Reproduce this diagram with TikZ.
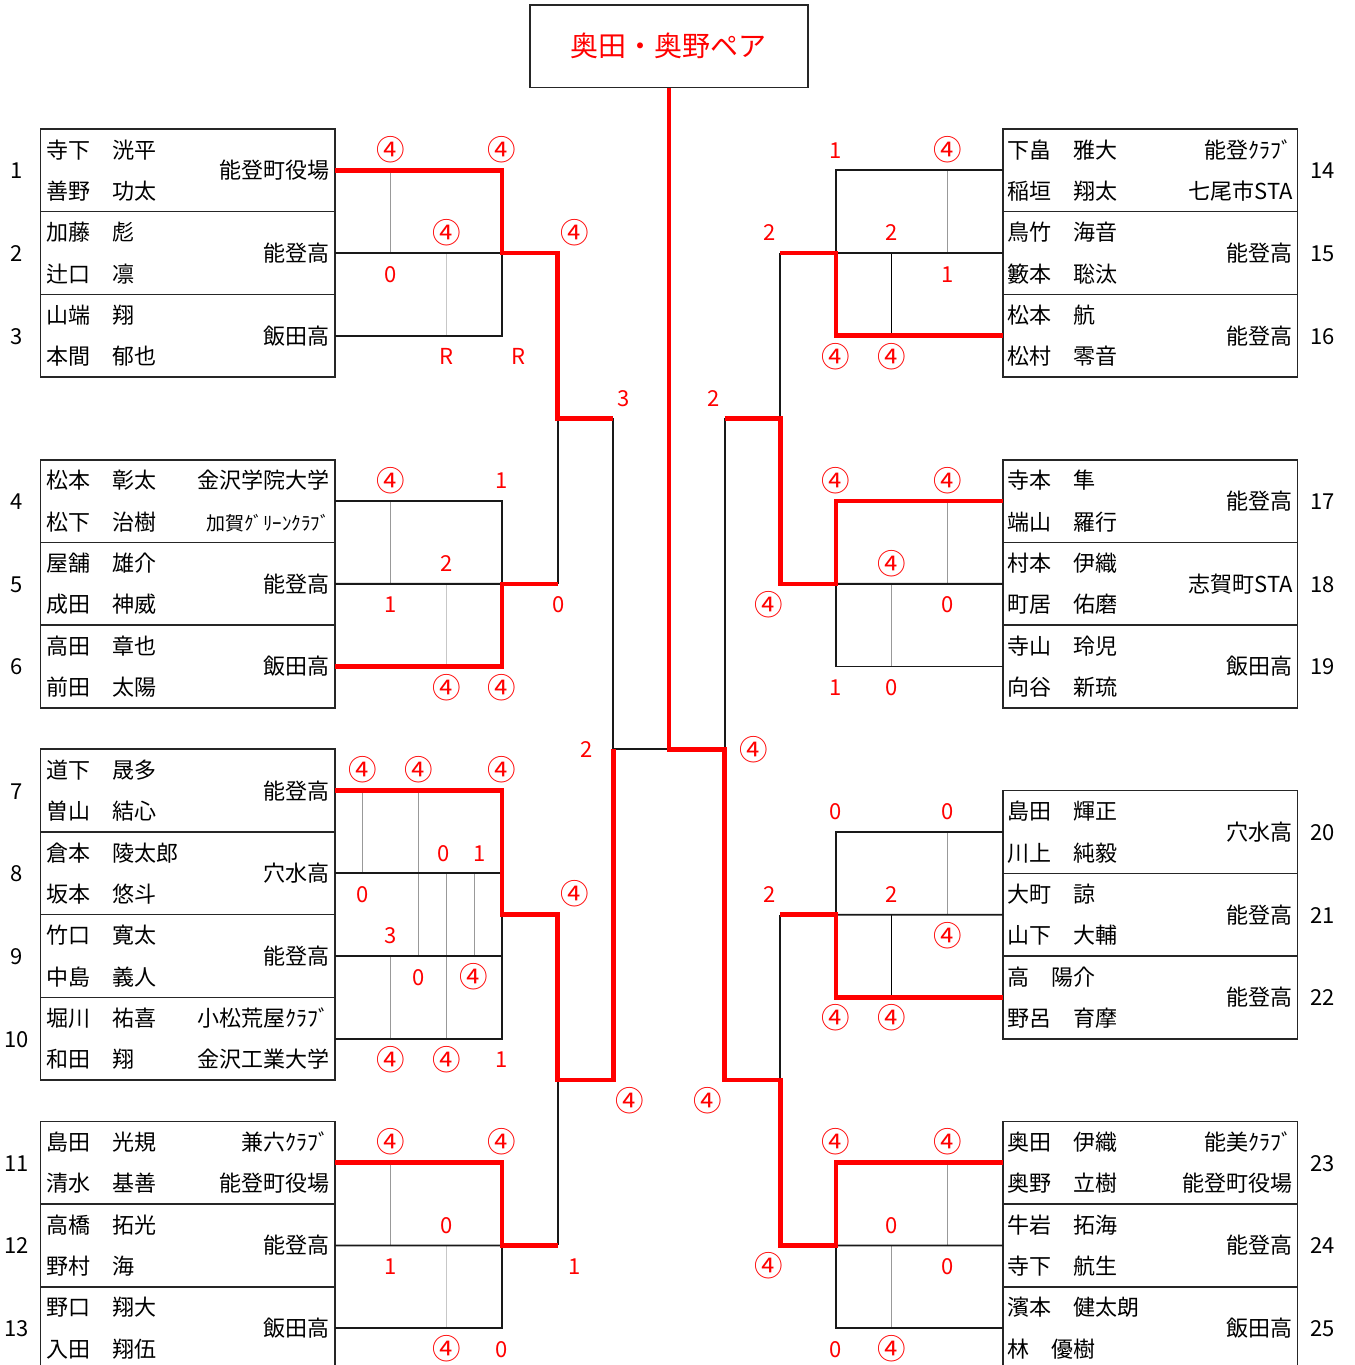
\documentclass[tikz,border=0pt]{standalone}
\usepackage{fontspec}
\setmainfont{Noto Sans CJK JP}
\newcounter{labno}
\newcommand\mklab[3]{\stepcounter{labno}\node[lab] (lab\arabic{labno}) at (#1,#2) {#3};}
\newcommand\mkcir[2]{\stepcounter{labno}\node[cir] (lab\arabic{labno}) at (#1,#2) {④};}
% left team: id, top row, number, name1, name2, school line1, school line2, school centred
\newcommand\Lteam[8]{%
  \node[tbox, anchor=north east] (#1) at (0,#2) {};
  \node[txt, anchor=west] (#1a) at (-10.38,{#2+0.5}) {#4};
  \node[txt, anchor=west] (#1b) at (-10.38,{#2+1.5}) {#5};
  \node[txt, anchor=east] (#1c) at (-0.18,{#2+0.5}) {#6};
  \node[txt, anchor=east] (#1d) at (-0.18,{#2+1.5}) {#7};
  \node[txt, anchor=east] (#1e) at (-0.18,{#2+1}) {#8};
  \node[txt] (#1n) at (-11.43,{#2+1}) {#3};
}
\newcommand\Rteam[8]{%
  \node[tbox, anchor=north west] (#1) at (24,#2) {};
  \node[txt, anchor=west] (#1a) at (24.18,{#2+0.5}) {#4};
  \node[txt, anchor=west] (#1b) at (24.18,{#2+1.5}) {#5};
  \node[txt, anchor=east] (#1c) at (34.42,{#2+0.5}) {#6};
  \node[txt, anchor=east] (#1d) at (34.42,{#2+1.5}) {#7};
  \node[txt, anchor=east] (#1e) at (34.42,{#2+1}) {#8};
  \node[txt] (#1n) at (35.5,{#2+1}) {#3};
}
\tikzset{
  tbox/.style={draw=black!85, line width=1.6pt, minimum width=294.5pt, minimum height=82.7pt, inner sep=0pt, outer sep=0pt},
  txt/.style={inner sep=0pt, outer sep=0pt, font=\fontsize{22pt}{22pt}\selectfont, text height=19.4pt, text depth=2.6pt},
  lab/.style={txt, text=red},
  cir/.style={inner sep=0pt, outer sep=0pt, text=red, font=\fontsize{28.5pt}{28.5pt}\selectfont, text height=25.1pt, text depth=3.4pt},
  ttl/.style={draw=black!85, line width=1.6pt, minimum width=278pt, minimum height=82.7pt, inner sep=0pt, outer sep=0pt, text=red, font=\fontsize{28pt}{28pt}\selectfont, text height=24.6pt, text depth=3.4pt},
  bk/.style={draw=black!90, line width=1.8pt},
  rd/.style={draw=red, line width=4.6pt},
  gy/.style={draw=black!40, line width=1pt},
  gl/.style={draw=black!22, line width=1pt},
  tk/.style={draw=black, line width=1pt},
}
\begin{document}
\begin{tikzpicture}[x=27.83pt, y=-41.35pt]
\useasboundingbox (-12.0374,-3.1197) rectangle (36.615,29.891);

\node[ttl] (title) at (12,-2) {奥田・奥野ペア};

\Lteam{t1}{0}{1}{寺下　洸平}{善野　功太}{}{}{能登町役場}
\Lteam{t2}{2}{2}{加藤　彪}{辻口　凛}{}{}{能登高}
\Lteam{t3}{4}{3}{山端　翔}{本間　郁也}{}{}{飯田高}
\Lteam{t4}{8}{4}{松本　彰太}{松下　治樹}{金沢学院大学}{{\fontsize{19pt}{19pt}\selectfont 加賀ｸﾞﾘｰﾝｸﾗﾌﾞ}}{}
\Lteam{t5}{10}{5}{屋舗　雄介}{成田　神威}{}{}{能登高}
\Lteam{t6}{12}{6}{高田　章也}{前田　太陽}{}{}{飯田高}
\Lteam{t7}{15}{7}{道下　晟多}{曽山　結心}{}{}{能登高}
\Lteam{t8}{17}{8}{倉本　陵太郎}{坂本　悠斗}{}{}{穴水高}
\Lteam{t9}{19}{9}{竹口　寛太}{中島　義人}{}{}{能登高}
\Lteam{t10}{21}{10}{堀川　祐喜}{和田　翔}{小松荒屋ｸﾗﾌﾞ}{金沢工業大学}{}
\Lteam{t11}{24}{11}{島田　光規}{清水　基善}{兼六ｸﾗﾌﾞ}{能登町役場}{}
\Lteam{t12}{26}{12}{高橋　拓光}{野村　海}{}{}{能登高}
\Lteam{t13}{28}{13}{野口　翔大}{入田　翔伍}{}{}{飯田高}

\Rteam{t14}{0}{14}{下畠　雅大}{稲垣　翔太}{能登ｸﾗﾌﾞ}{七尾市STA}{}
\Rteam{t15}{2}{15}{鳥竹　海音}{籔本　聡汰}{}{}{能登高}
\Rteam{t16}{4}{16}{松本　航}{松村　零音}{}{}{能登高}
\Rteam{t17}{8}{17}{寺本　隼}{端山　羅行}{}{}{能登高}
\Rteam{t18}{10}{18}{村本　伊織}{町居　佑磨}{}{}{志賀町STA}
\Rteam{t19}{12}{19}{寺山　玲児}{向谷　新琉}{}{}{飯田高}
\Rteam{t20}{16}{20}{島田　輝正}{川上　純毅}{}{}{穴水高}
\Rteam{t21}{18}{21}{大町　諒}{山下　大輔}{}{}{能登高}
\Rteam{t22}{20}{22}{高　陽介}{野呂　育摩}{}{}{能登高}
\Rteam{t23}{24}{23}{奥田　伊織}{奥野　立樹}{能美ｸﾗﾌﾞ}{能登町役場}{}
\Rteam{t24}{26}{24}{牛岩　拓海}{寺下　航生}{}{}{能登高}
\Rteam{t25}{28}{25}{濱本　健太朗}{林　優樹}{}{}{飯田高}

% junctions
\coordinate (g1) at (6,3);  \coordinate (g2) at (6,11);
\coordinate (g3) at (6,19); \coordinate (g4) at (6,27);
\coordinate (h1) at (8,3);  \coordinate (h2) at (8,11);
\coordinate (h3) at (8,19); \coordinate (h4) at (8,27);
\coordinate (s1) at (8,7);  \coordinate (s2) at (8,23);
\coordinate (s1o) at (10,7); \coordinate (s2o) at (10,23);
\coordinate (f1) at (10,15); \coordinate (fc) at (12,15);
\coordinate (G1) at (18,3);  \coordinate (G2) at (18,11);
\coordinate (G3) at (18,19); \coordinate (G4) at (18,27);
\coordinate (H1) at (16,3);  \coordinate (H2) at (16,11);
\coordinate (H3) at (16,19); \coordinate (H4) at (16,27);
\coordinate (S1) at (16,7);  \coordinate (S2) at (16,23);
\coordinate (S1o) at (14,7); \coordinate (S2o) at (14,23);
\coordinate (F2) at (14,15);

% match marks
\draw[gy] (2,1)--(2,3);   \draw[gl] (4,3)--(4,5);
\draw[gy] (2,9)--(2,11);  \draw[gl] (4,11)--(4,13);
\draw[gy] (1,16)--(1,18); \draw[gy] (3,16)--(3,20);
\draw[gy] (4,18)--(4,22); \draw[gy] (5,18)--(5,20);
\draw[gy] (2,20)--(2,22);
\draw[gy] (2,25)--(2,27); \draw[gl] (4,27)--(4,29);
\draw[gy] (22,1)--(22,3);   \draw[tk] (20,3)--(20,5);
\draw[gy] (22,9)--(22,11);  \draw[gy] (20,11)--(20,13);
\draw[gy] (22,17)--(22,19); \draw[tk] (20,19)--(20,21);
\draw[gy] (22,25)--(22,27); \draw[gy] (20,27)--(20,29);

% black connectors
\draw[bk] (t2.east) -- (g1);
\draw[bk] (t3.east) -| (g1);
\draw[bk] (t4.east) -| (g2);
\draw[bk] (t5.east) -- (g2);
\draw[bk] (h2) -- (s1);
\draw[bk] (s1o) -- (f1) -- (fc);
\draw[bk] (t8.east) -- (t8.east -| g3);
\draw[bk] (t9.east) -- (t9.east -| g3);
\draw[bk] (t10.east) -| (g3);
\draw[bk] (t12.east) -- (g4);
\draw[bk] (t13.east) -| (g4);
\draw[bk] (h4) -- (s2);
\draw[bk] (t14.west) -| (G1);
\draw[bk] (t15.west) -- (G1);
\draw[bk] (H1) -- (S1);
\draw[bk] (t18.west) -- (G2);
\draw[bk] (t19.west) -| (G2);
\draw[bk] (S1o) -- (F2);
\draw[bk] (t20.west) -| (G3);
\draw[bk] (t21.west) -- (G3);
\draw[bk] (H3) -- (S2);
\draw[bk] (t24.west) -- (G4);
\draw[bk] (t25.west) -| (G4);

% red winners
\draw[rd] (t1.east) -| (g1) -- (h1) -- (s1) -- (s1o);
\draw[rd] (t6.east) -| (g2) -- (h2);
\draw[rd] (t7.east) -| (g3) -- (h3) -- (s2) -- (s2o) -- (f1);
\draw[rd] (t11.east) -| (g4) -- (h4);
\draw[rd] (t16.west) -| (G1) -- (H1);
\draw[rd] (t17.west) -| (G2) -- (H2) -- (S1) -- (S1o);
\draw[rd] (t22.west) -| (G3) -- (H3);
\draw[rd] (t23.west) -| (G4) -- (H4) -- (S2) -- (S2o) -- (F2) -- (fc) -- (title.south);

% scores left
\mkcir{2}{0.5}\mkcir{6}{0.5}\mkcir{4}{2.5}\mklab{2}{3.5}{0}
\mklab{4}{5.5}{R}\mklab{6.58}{5.5}{R}\mkcir{8.6}{2.5}\mklab{10.38}{6.5}{3}
\mkcir{2}{8.5}\mklab{6}{8.5}{1}\mklab{4}{10.5}{2}\mklab{2}{11.5}{1}
\mklab{8.05}{11.5}{0}\mkcir{4}{13.5}\mkcir{6}{13.5}
\mkcir{1}{15.5}\mkcir{3}{15.5}\mkcir{6}{15.5}
\mklab{3.9}{17.5}{0}\mklab{5.2}{17.5}{1}\mklab{1}{18.5}{0}\mklab{2}{19.5}{3}
\mklab{3}{20.5}{0}\mkcir{5}{20.5}\mkcir{2}{22.5}\mkcir{4}{22.5}
\mklab{6}{22.5}{1}\mkcir{8.6}{18.5}\mklab{9.05}{15}{2}\mkcir{10.6}{23.5}
\mkcir{2}{24.5}\mkcir{6}{24.5}\mklab{4}{26.5}{0}\mklab{2}{27.5}{1}
\mklab{8.6}{27.5}{1}\mkcir{4}{29.5}\mklab{6}{29.5}{0}
% scores right
\mklab{18}{0.5}{1}\mkcir{22}{0.5}\mklab{15.6}{2.5}{2}\mklab{20}{2.5}{2}
\mklab{22}{3.5}{1}\mkcir{18}{5.5}\mkcir{20}{5.5}\mklab{13.62}{6.5}{2}
\mkcir{18}{8.5}\mkcir{22}{8.5}\mkcir{20}{10.5}\mkcir{15.6}{11.5}
\mklab{22}{11.5}{0}\mklab{18}{13.5}{1}\mklab{20}{13.5}{0}\mkcir{15.06}{15}
\mklab{18}{16.5}{0}\mklab{22}{16.5}{0}\mklab{15.6}{18.5}{2}\mklab{20}{18.5}{2}
\mkcir{22}{19.5}\mkcir{18}{21.5}\mkcir{20}{21.5}
\mkcir{18}{24.5}\mkcir{22}{24.5}\mklab{20}{26.5}{0}\mkcir{15.6}{27.5}
\mklab{22}{27.5}{0}\mklab{18}{29.5}{0}\mkcir{20}{29.5}\mkcir{13.4}{23.5}
\end{tikzpicture}
\end{document}
